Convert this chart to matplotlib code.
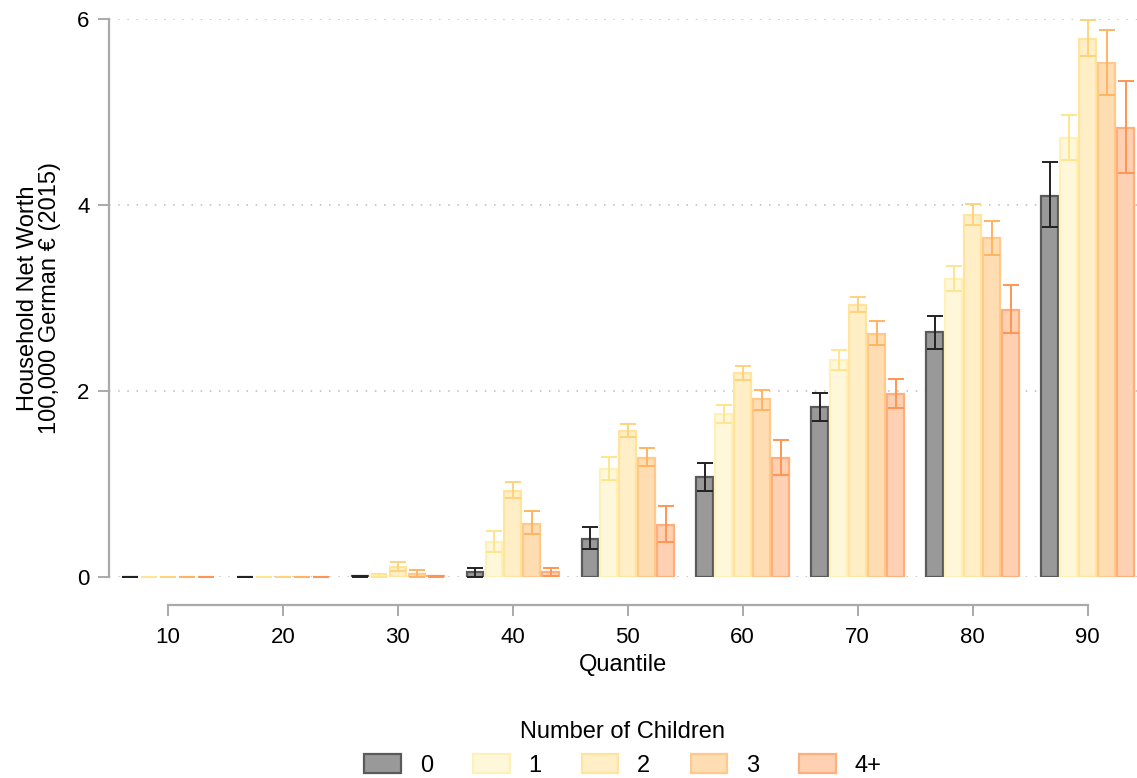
import numpy as np
import matplotlib.pyplot as plt

plt.rcParams['font.family'] = ['Liberation Sans', 'DejaVu Sans']

# Net worth by quantile and number of children (100,000 EUR, 2015)
quantiles = [10, 20, 30, 40, 50, 60, 70, 80, 90]
groups = ['0', '1', '2', '3', '4+']

worth = {
    '0':  [0.005, 0.005, 0.01, 0.05, 0.41, 1.08, 1.83, 2.63, 4.10],
    '1':  [0.003, 0.003, 0.015, 0.38, 1.16, 1.75, 2.33, 3.20, 4.72],
    '2':  [0.003, 0.003, 0.11, 0.93, 1.57, 2.19, 2.92, 3.89, 5.79],
    '3':  [0.003, 0.003, 0.035, 0.57, 1.28, 1.91, 2.61, 3.64, 5.53],
    '4+': [0.003, 0.003, 0.008, 0.05, 0.56, 1.28, 1.97, 2.87, 4.83],
}
ci_low = {
    '0':  [0.005, 0.005, 0.005, 0.00, 0.30, 0.93, 1.68, 2.45, 3.76],
    '1':  [0.003, 0.003, 0.005, 0.27, 1.04, 1.66, 2.23, 3.08, 4.48],
    '2':  [0.003, 0.003, 0.06, 0.85, 1.51, 2.12, 2.85, 3.78, 5.60],
    '3':  [0.003, 0.003, 0.005, 0.46, 1.19, 1.80, 2.49, 3.46, 5.18],
    '4+': [0.003, 0.003, 0.004, 0.01, 0.38, 1.10, 1.82, 2.62, 4.34],
}
ci_high = {
    '0':  [0.005, 0.005, 0.015, 0.10, 0.54, 1.23, 1.98, 2.81, 4.46],
    '1':  [0.003, 0.003, 0.03, 0.50, 1.29, 1.85, 2.44, 3.34, 4.97],
    '2':  [0.003, 0.003, 0.16, 1.02, 1.64, 2.27, 3.01, 4.01, 5.99],
    '3':  [0.003, 0.003, 0.07, 0.71, 1.39, 2.01, 2.75, 3.83, 5.88],
    '4+': [0.003, 0.003, 0.012, 0.10, 0.76, 1.47, 2.13, 3.14, 5.33],
}

face_colors = ['#999999', '#FFF7D9', '#FFEEC6', '#FFDDB2', '#FFD0B2']
edge_colors = ['#5A5A5A', '#FFF0B8', '#FFE49E', '#FFC98C', '#FFAE7E']
err_colors = ['#222222', '#FFE58E', '#FFD27C', '#FFB462', '#FF9552']

fig = plt.figure(figsize=(11.37, 7.78), dpi=100)
ax = fig.add_axes([109 / 1137, 1 - 577 / 778, 1028 / 1137, 558 / 778])

pitch = 1.65
width = 1.45
x = np.array(quantiles, dtype=float)
for i, g in enumerate(groups):
    xs = x + (i - 2) * pitch
    vals = np.array(worth[g])
    lo = vals - np.array(ci_low[g])
    hi = np.array(ci_high[g]) - vals
    ax.bar(xs, vals, width=width, color=face_colors[i], edgecolor=edge_colors[i],
           linewidth=1.6, label=g, zorder=3)
    ax.errorbar(xs, vals, yerr=[lo, hi], fmt='none', ecolor=err_colors[i],
                elinewidth=1.4, capsize=5.5, capthick=1.4, zorder=4, clip_on=False)

ax.set_xlim(4.87, 94.3)
ax.set_ylim(0, 6)

# dotted horizontal grid
for yv in [0, 2, 4, 6]:
    ax.axhline(yv, color='#BBBBBB', linestyle=(0, (1, 5)), linewidth=1.1, zorder=1)

ax.set_yticks([0, 2, 4, 6])
ax.set_xticks(quantiles)
ax.tick_params(axis='both', colors='#AAAAAA', labelcolor='black', labelsize=16,
               width=1.4, length=8)
ax.tick_params(axis='x', pad=8)
ax.tick_params(axis='y', pad=6)

for s in ['top', 'right']:
    ax.spines[s].set_visible(False)
ax.spines['left'].set_color('#AAAAAA')
ax.spines['left'].set_linewidth(1.6)
ax.spines['bottom'].set_color('#AAAAAA')
ax.spines['bottom'].set_linewidth(1.6)
ax.spines['bottom'].set_position(('outward', 20))
ax.spines['bottom'].set_bounds(10, 90)

ax.set_xlabel('Quantile', fontsize=17, labelpad=4)
ax.set_ylabel('Household Net Worth\n100,000 German € (2015)', fontsize=17,
              labelpad=12, linespacing=1.0)

leg = fig.legend(loc='upper center', bbox_to_anchor=(623 / 1137, 0.092), ncol=5,
                 frameon=False, title='Number of Children', fontsize=17,
                 title_fontsize=17, handlelength=1.55, handleheight=0.85,
                 handletextpad=0.8, columnspacing=1.7, borderaxespad=0.2)

fig.savefig('out.png', dpi=100)
